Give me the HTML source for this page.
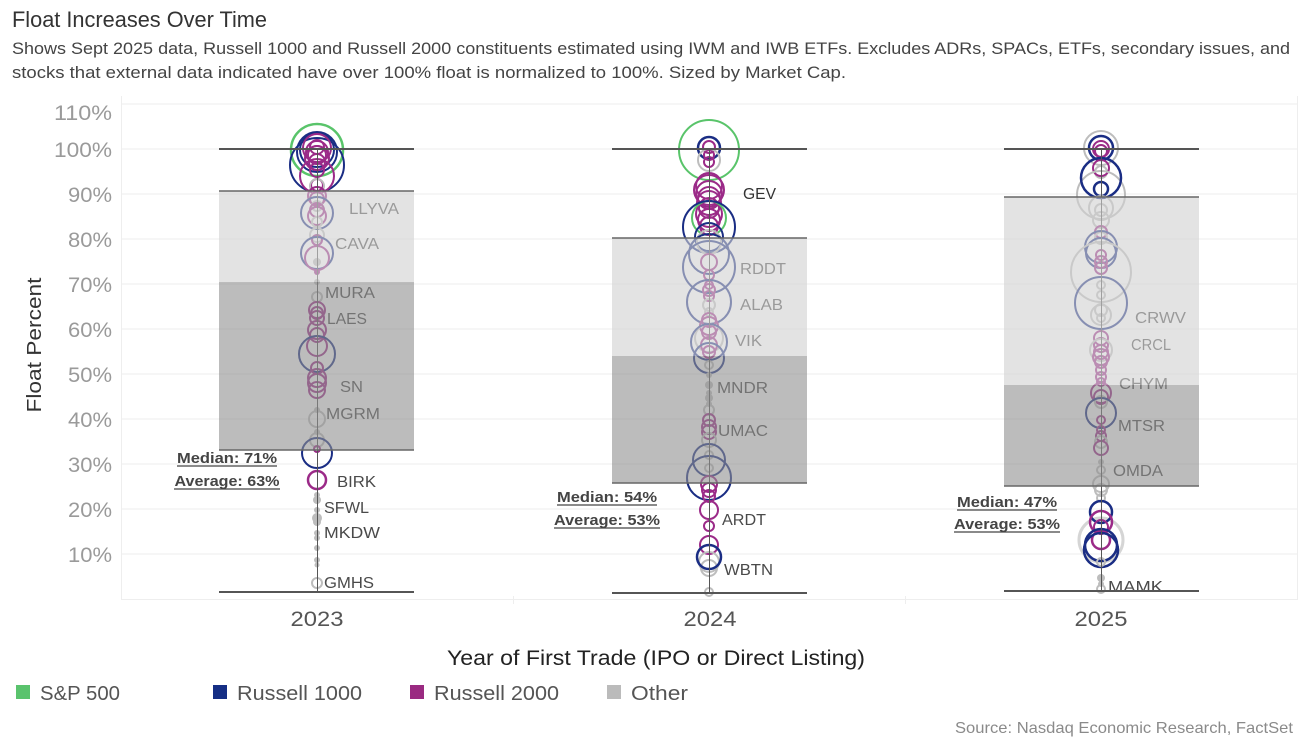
<!DOCTYPE html>
<html><head><meta charset="utf-8"><style>
html,body{margin:0;padding:0;background:#fff;}
svg{display:block;font-family:"Liberation Sans",sans-serif;}
</style></head><body>
<svg width="1308" height="746" viewBox="0 0 1308 746" xmlns="http://www.w3.org/2000/svg">
<rect width="1308" height="746" fill="#fff"/>
<!-- title -->
<text x="12" y="27" font-size="22.5" fill="#333" textLength="255" lengthAdjust="spacingAndGlyphs">Float Increases Over Time</text>
<text x="12" y="54" font-size="16.5" fill="#444" textLength="1278" lengthAdjust="spacingAndGlyphs">Shows Sept 2025 data, Russell 1000 and Russell 2000 constituents estimated using IWM and IWB ETFs. Excludes ADRs, SPACs, ETFs, secondary issues, and</text>
<text x="12" y="78" font-size="16.5" fill="#444" textLength="834" lengthAdjust="spacingAndGlyphs">stocks that external data indicated have over 100% float is normalized to 100%. Sized by Market Cap.</text>

<!-- gridlines -->
<g stroke="#eeeeee" stroke-width="1">
<line x1="121" y1="104" x2="1297" y2="104"/>
<line x1="121" y1="149" x2="1297" y2="149"/>
<line x1="121" y1="194" x2="1297" y2="194"/>
<line x1="121" y1="239" x2="1297" y2="239"/>
<line x1="121" y1="284" x2="1297" y2="284"/>
<line x1="121" y1="329" x2="1297" y2="329"/>
<line x1="121" y1="374" x2="1297" y2="374"/>
<line x1="121" y1="419" x2="1297" y2="419"/>
<line x1="121" y1="464" x2="1297" y2="464"/>
<line x1="121" y1="509" x2="1297" y2="509"/>
<line x1="121" y1="554" x2="1297" y2="554"/>
<line x1="121" y1="599.5" x2="1297" y2="599.5"/>
<line x1="121.5" y1="96" x2="121.5" y2="600"/>
<line x1="513.5" y1="596" x2="513.5" y2="604"/>
<line x1="905.5" y1="596" x2="905.5" y2="604"/>
<line x1="1297.5" y1="96" x2="1297.5" y2="600"/>
</g>

<!-- y tick labels -->
<g font-size="21" fill="#9a9a9a" text-anchor="end">
<text x="112" y="120" textLength="58" lengthAdjust="spacingAndGlyphs">110%</text>
<text x="112" y="157" textLength="58" lengthAdjust="spacingAndGlyphs">100%</text>
<text x="112" y="202" textLength="44" lengthAdjust="spacingAndGlyphs">90%</text>
<text x="112" y="247" textLength="44" lengthAdjust="spacingAndGlyphs">80%</text>
<text x="112" y="292" textLength="44" lengthAdjust="spacingAndGlyphs">70%</text>
<text x="112" y="337" textLength="44" lengthAdjust="spacingAndGlyphs">60%</text>
<text x="112" y="382" textLength="44" lengthAdjust="spacingAndGlyphs">50%</text>
<text x="112" y="427" textLength="44" lengthAdjust="spacingAndGlyphs">40%</text>
<text x="112" y="472" textLength="44" lengthAdjust="spacingAndGlyphs">30%</text>
<text x="112" y="517" textLength="44" lengthAdjust="spacingAndGlyphs">20%</text>
<text x="112" y="562" textLength="44" lengthAdjust="spacingAndGlyphs">10%</text>
</g>
<text transform="translate(41,345) rotate(-90)" font-size="20" fill="#333" text-anchor="middle" textLength="135" lengthAdjust="spacingAndGlyphs">Float Percent</text>

<!-- 2023 dots -->
<g transform="translate(317,0)" fill="none" stroke-width="2">
<circle cy="150" r="26" stroke="#59c46a" stroke-width="2.5"/>
<circle cy="165" r="27" stroke="#1a2d84"/>
<circle cy="152" r="20" stroke="#1a2d84"/>
<circle cy="150" r="17" stroke="#1a2d84"/>
<circle cy="148" r="14" stroke="#9b2a88"/>
<circle cy="152" r="11" stroke="#9b2a88"/>
<circle cy="155" r="9" stroke="#9b2a88"/>
<circle cy="158" r="12" stroke="#9b2a88"/>
<circle cy="147" r="7" stroke="#9b2a88"/>
<circle cy="162" r="8" stroke="#9b2a88"/>
<circle cy="170" r="7" stroke="#9b2a88"/>
<circle cy="176" r="17" stroke="#9b2a88"/>
<circle cy="185" r="6" stroke="#9b2a88"/>
<circle cy="186" r="7" stroke="#bdbdbd"/>
<circle cy="196" r="9" stroke="#9b2a88"/>
<circle cy="199" r="7" stroke="#9b2a88"/>
<circle cy="206" r="5" stroke="#bdbdbd"/>
<circle cy="210" r="7" stroke="#9b2a88"/>
<circle cy="213" r="16" stroke="#1a2d84"/>
<circle cy="216" r="9" stroke="#9b2a88"/>
<circle cy="222" r="5" stroke="#bdbdbd"/>
<circle cy="235" r="7" stroke="#bdbdbd"/>
<circle cy="240" r="5" stroke="#9b2a88"/>
<circle cy="253" r="16" stroke="#1a2d84"/>
<circle cy="258" r="12" stroke="#9b2a88"/>
<circle cy="262" r="4" fill="#bdbdbd" stroke="none"/>
<circle cy="272" r="3" fill="#9b2a88" stroke="none"/>
<circle cy="282" r="3" fill="#bdbdbd" stroke="none"/>
<circle cy="297" r="5" stroke="#bdbdbd"/>
<circle cy="310" r="8" stroke="#9b2a88"/>
<circle cy="313" r="6" stroke="#9b2a88"/>
<circle cy="318" r="7" stroke="#9b2a88"/>
<circle cy="330" r="9" stroke="#9b2a88"/>
<circle cy="335" r="7" stroke="#9b2a88"/>
<circle cy="346" r="10" stroke="#9b2a88"/>
<circle cy="354" r="18" stroke="#1a2d84"/>
<circle cy="368" r="6" stroke="#9b2a88"/>
<circle cy="378" r="9" stroke="#9b2a88"/>
<circle cy="383" r="9" stroke="#9b2a88"/>
<circle cy="390" r="8" stroke="#9b2a88"/>
<circle cy="410" r="3" fill="#bdbdbd" stroke="none"/>
<circle cy="419" r="8" stroke="#bdbdbd"/>
<circle cy="432" r="3" fill="#bdbdbd" stroke="none"/>
<circle cy="440" r="7" stroke="#bdbdbd"/>
<circle cy="453" r="15" stroke="#1a2d84"/>
<circle cy="449" r="3" stroke="#9b2a88"/>
<circle cy="480" r="9" stroke="#9b2a88" stroke-width="2.5"/>
<circle cy="495" r="3" fill="#bdbdbd" stroke="none"/>
<circle cy="500" r="4" fill="#bdbdbd" stroke="none"/>
<circle cy="510" r="3" fill="#bdbdbd" stroke="none"/>
<circle cy="518" r="5" fill="#bdbdbd" stroke="none"/>
<circle cy="522" r="4" fill="#bdbdbd" stroke="none"/>
<circle cy="533" r="3" fill="#bdbdbd" stroke="none"/>
<circle cy="538" r="3" fill="#bdbdbd" stroke="none"/>
<circle cy="548" r="3" fill="#bdbdbd" stroke="none"/>
<circle cy="560" r="3" fill="#bdbdbd" stroke="none"/>
<circle cy="565" r="2.5" fill="#bdbdbd" stroke="none"/>
<circle cy="583" r="5" stroke="#bdbdbd"/>
</g>

<!-- 2024 dots -->
<g transform="translate(709,0)" fill="none" stroke-width="2">
<circle cy="150" r="30" stroke="#59c46a"/>
<circle cy="148" r="11" stroke="#1a2d84" stroke-width="2.5"/>
<circle cy="147" r="6" stroke="#9b2a88"/>
<circle cy="155" r="5" stroke="#9b2a88"/>
<circle cy="160" r="11" stroke="#bdbdbd"/>
<circle cy="162" r="5" stroke="#9b2a88"/>
<circle cy="186" r="13" stroke="#9b2a88"/>
<circle cy="190" r="15" stroke="#9b2a88"/>
<circle cy="194" r="13" stroke="#9b2a88"/>
<circle cy="198" r="11" stroke="#9b2a88"/>
<circle cy="203" r="12" stroke="#9b2a88"/>
<circle cy="208" r="10" stroke="#9b2a88"/>
<circle cy="214" r="13" stroke="#9b2a88"/>
<circle cy="218" r="17" stroke="#59c46a"/>
<circle cy="220" r="11" stroke="#9b2a88"/>
<circle cy="226" r="9" stroke="#9b2a88"/>
<circle cy="227" r="26" stroke="#1a2d84"/>
<circle cy="237" r="14" stroke="#1a2d84"/>
<circle cy="242" r="12" stroke="#bdbdbd"/>
<circle cy="254" r="20" stroke="#1a2d84"/>
<circle cy="262" r="8" stroke="#9b2a88"/>
<circle cy="267" r="26" stroke="#1a2d84"/>
<circle cy="275" r="5" stroke="#9b2a88"/>
<circle cy="285" r="4" stroke="#9b2a88"/>
<circle cy="290" r="6" stroke="#9b2a88"/>
<circle cy="296" r="5" stroke="#9b2a88"/>
<circle cy="302" r="22" stroke="#1a2d84"/>
<circle cy="305" r="6" stroke="#bdbdbd"/>
<circle cy="312" r="4" stroke="#bdbdbd"/>
<circle cy="320" r="7" stroke="#9b2a88"/>
<circle cy="326" r="9" stroke="#9b2a88"/>
<circle cy="332" r="7" stroke="#9b2a88"/>
<circle cy="338" r="14" stroke="#bdbdbd"/>
<circle cy="342" r="18" stroke="#1a2d84"/>
<circle cy="345" r="8" stroke="#9b2a88"/>
<circle cy="352" r="6" stroke="#9b2a88"/>
<circle cy="358" r="15" stroke="#1a2d84"/>
<circle cy="365" r="4" stroke="#bdbdbd"/>
<circle cy="375" r="3" fill="#bdbdbd" stroke="none"/>
<circle cy="385" r="4" fill="#bdbdbd" stroke="none"/>
<circle cy="393" r="3" fill="#bdbdbd" stroke="none"/>
<circle cy="398" r="4" fill="#bdbdbd" stroke="none"/>
<circle cy="404" r="3" fill="#bdbdbd" stroke="none"/>
<circle cy="410" r="5" stroke="#bdbdbd"/>
<circle cy="420" r="6" stroke="#9b2a88"/>
<circle cy="427" r="7" stroke="#9b2a88"/>
<circle cy="432" r="7" stroke="#9b2a88"/>
<circle cy="440" r="7" stroke="#bdbdbd"/>
<circle cy="455" r="4" stroke="#bdbdbd"/>
<circle cy="460" r="16" stroke="#1a2d84"/>
<circle cy="468" r="4" stroke="#bdbdbd"/>
<circle cy="478" r="22" stroke="#1a2d84"/>
<circle cy="484" r="8" stroke="#9b2a88"/>
<circle cy="490" r="7" stroke="#9b2a88"/>
<circle cy="496" r="6" stroke="#9b2a88"/>
<circle cy="510" r="9" stroke="#9b2a88"/>
<circle cy="526" r="5" stroke="#9b2a88"/>
<circle cy="545" r="9" stroke="#9b2a88"/>
<circle cy="562" r="10" stroke="#bdbdbd"/>
<circle cy="568" r="8" stroke="#bdbdbd"/>
<circle cy="557" r="12" stroke="#1a2d84" stroke-width="2.5"/>
<circle cy="592" r="4" stroke="#bdbdbd"/>
</g>

<!-- 2025 dots -->
<g transform="translate(1101,0)" fill="none" stroke-width="2">
<circle cy="148" r="17" stroke="#bdbdbd"/>
<circle cy="148" r="12" stroke="#1a2d84" stroke-width="2.5"/>
<circle cy="149" r="8" stroke="#9b2a88"/>
<circle cy="151" r="6" stroke="#9b2a88"/>
<circle cy="172" r="6" stroke="#bdbdbd"/>
<circle cy="168" r="8" stroke="#9b2a88"/>
<circle cy="195" r="24" stroke="#bdbdbd"/>
<circle cy="178" r="20" stroke="#1a2d84" stroke-width="2.5"/>
<circle cy="189" r="7" stroke="#1a2d84" stroke-width="2.5"/>
<circle cy="208" r="12" stroke="#bdbdbd"/>
<circle cy="210" r="6" stroke="#bdbdbd"/>
<circle cy="220" r="8" stroke="#bdbdbd"/>
<circle cy="232" r="6" stroke="#9b2a88"/>
<circle cy="238" r="6" stroke="#bdbdbd"/>
<circle cy="247" r="16" stroke="#1a2d84"/>
<circle cy="253" r="15" stroke="#1a2d84"/>
<circle cy="255" r="5" stroke="#9b2a88"/>
<circle cy="262" r="6" stroke="#9b2a88"/>
<circle cy="268" r="6" stroke="#9b2a88"/>
<circle cy="272" r="30" stroke="#bdbdbd"/>
<circle cy="285" r="4" stroke="#bdbdbd"/>
<circle cy="295" r="4" stroke="#bdbdbd"/>
<circle cy="303" r="26" stroke="#1a2d84"/>
<circle cy="310" r="6" stroke="#bdbdbd"/>
<circle cy="315" r="10" stroke="#bdbdbd"/>
<circle cy="318" r="4" stroke="#bdbdbd"/>
<circle cy="338" r="7" stroke="#9b2a88"/>
<circle cy="345" r="7" stroke="#9b2a88"/>
<circle cy="350" r="11" stroke="#bdbdbd"/>
<circle cy="352" r="7" stroke="#9b2a88"/>
<circle cy="357" r="8" stroke="#9b2a88"/>
<circle cy="362" r="6" stroke="#9b2a88"/>
<circle cy="370" r="5" stroke="#9b2a88"/>
<circle cy="377" r="5" stroke="#9b2a88"/>
<circle cy="382" r="4" stroke="#9b2a88"/>
<circle cy="393" r="10" stroke="#9b2a88"/>
<circle cy="397" r="7" stroke="#9b2a88"/>
<circle cy="402" r="6" stroke="#bdbdbd"/>
<circle cy="413" r="15" stroke="#1a2d84"/>
<circle cy="420" r="4" stroke="#9b2a88"/>
<circle cy="430" r="4" stroke="#9b2a88"/>
<circle cy="436" r="5" stroke="#9b2a88"/>
<circle cy="442" r="6" stroke="#bdbdbd"/>
<circle cy="448" r="7" stroke="#9b2a88"/>
<circle cy="462" r="3" fill="#bdbdbd" stroke="none"/>
<circle cy="470" r="4" stroke="#bdbdbd"/>
<circle cy="484" r="8" stroke="#bdbdbd"/>
<circle cy="490" r="6" stroke="#bdbdbd"/>
<circle cy="498" r="4" stroke="#bdbdbd"/>
<circle cy="540" r="22" stroke="#d5d5d5" stroke-width="3"/>
<circle cy="512" r="11" stroke="#1a2d84" stroke-width="2.5"/>
<circle cy="522" r="11" stroke="#9b2a88" stroke-width="2.5"/>
<circle cy="527" r="7" stroke="#9b2a88"/>
<circle cy="540" r="9" stroke="#9b2a88" stroke-width="2.5"/>
<circle cy="545" r="16" stroke="#1a2d84" stroke-width="2.5"/>
<circle cy="550" r="17" stroke="#1a2d84" stroke-width="2.5"/>
<circle cy="562" r="4" stroke="#bdbdbd"/>
<circle cy="578" r="4" fill="#bdbdbd" stroke="none"/>
<circle cy="584" r="3" fill="#bdbdbd" stroke="none"/>
<circle cy="589" r="4" stroke="#bdbdbd"/>
</g>

<!-- vertical whisker lines -->
<g stroke="#555" stroke-width="1">
<line x1="317.5" y1="149" x2="317.5" y2="592"/>
<line x1="709.5" y1="149" x2="709.5" y2="593"/>
<line x1="1101.5" y1="149" x2="1101.5" y2="591"/>
</g>

<!-- ticker labels -->
<g font-size="16" fill="#4a4a4a">
<text x="349" y="214" textLength="50" lengthAdjust="spacingAndGlyphs">LLYVA</text>
<text x="335" y="249" textLength="44" lengthAdjust="spacingAndGlyphs">CAVA</text>
<text x="325" y="298" textLength="50" lengthAdjust="spacingAndGlyphs">MURA</text>
<text x="327" y="324" textLength="40" lengthAdjust="spacingAndGlyphs">LAES</text>
<text x="340" y="392" textLength="23" lengthAdjust="spacingAndGlyphs">SN</text>
<text x="326" y="419" textLength="54" lengthAdjust="spacingAndGlyphs">MGRM</text>
<text x="337" y="487" textLength="39" lengthAdjust="spacingAndGlyphs">BIRK</text>
<text x="324" y="513" textLength="45" lengthAdjust="spacingAndGlyphs">SFWL</text>
<text x="324" y="538" textLength="56" lengthAdjust="spacingAndGlyphs">MKDW</text>
<text x="324" y="588" textLength="50" lengthAdjust="spacingAndGlyphs">GMHS</text>
<text x="743" y="199" textLength="33" lengthAdjust="spacingAndGlyphs" fill="#333">GEV</text>
<text x="740" y="274" textLength="46" lengthAdjust="spacingAndGlyphs">RDDT</text>
<text x="740" y="310" textLength="43" lengthAdjust="spacingAndGlyphs">ALAB</text>
<text x="735" y="346" textLength="27" lengthAdjust="spacingAndGlyphs">VIK</text>
<text x="717" y="393" textLength="51" lengthAdjust="spacingAndGlyphs">MNDR</text>
<text x="718" y="436" textLength="50" lengthAdjust="spacingAndGlyphs">UMAC</text>
<text x="722" y="525" textLength="44" lengthAdjust="spacingAndGlyphs">ARDT</text>
<text x="724" y="575" textLength="49" lengthAdjust="spacingAndGlyphs">WBTN</text>
<text x="1135" y="323" textLength="51" lengthAdjust="spacingAndGlyphs">CRWV</text>
<text x="1131" y="350" textLength="40" lengthAdjust="spacingAndGlyphs">CRCL</text>
<text x="1119" y="389" textLength="49" lengthAdjust="spacingAndGlyphs">CHYM</text>
<text x="1118" y="431" textLength="47" lengthAdjust="spacingAndGlyphs">MTSR</text>
<text x="1113" y="476" textLength="50" lengthAdjust="spacingAndGlyphs">OMDA</text>
<text x="1108" y="592" textLength="55" lengthAdjust="spacingAndGlyphs">MAMK</text>
</g>

<!-- boxes overlay -->
<g>
<rect x="219" y="191" width="195" height="91" fill="#d0d0d0" fill-opacity="0.6"/>
<rect x="219" y="282" width="195" height="168" fill="#8f8f8f" fill-opacity="0.6"/>
<rect x="612" y="238" width="195" height="118" fill="#d0d0d0" fill-opacity="0.6"/>
<rect x="612" y="356" width="195" height="127" fill="#8f8f8f" fill-opacity="0.6"/>
<rect x="1004" y="197" width="195" height="188" fill="#d0d0d0" fill-opacity="0.6"/>
<rect x="1004" y="385" width="195" height="101" fill="#8f8f8f" fill-opacity="0.6"/>
</g>
<g stroke="#666" stroke-width="1.5">
<line x1="219" y1="191" x2="414" y2="191"/>
<line x1="219" y1="450" x2="414" y2="450"/>
<line x1="612" y1="238" x2="807" y2="238"/>
<line x1="612" y1="483" x2="807" y2="483"/>
<line x1="1004" y1="197" x2="1199" y2="197"/>
<line x1="1004" y1="486" x2="1199" y2="486"/>
</g>
<g stroke="#555" stroke-width="2">
<line x1="219" y1="149" x2="414" y2="149"/>
<line x1="219" y1="592" x2="414" y2="592"/>
<line x1="612" y1="149" x2="807" y2="149"/>
<line x1="612" y1="593" x2="807" y2="593"/>
<line x1="1004" y1="149" x2="1199" y2="149"/>
<line x1="1004" y1="591" x2="1199" y2="591"/>
</g>

<!-- median / average labels -->
<g font-size="15" font-weight="bold" fill="#444" text-anchor="middle">
<text x="227" y="463" textLength="100" lengthAdjust="spacingAndGlyphs">Median: 71%</text>
<text x="227" y="486" textLength="105" lengthAdjust="spacingAndGlyphs">Average: 63%</text>
<text x="607" y="502" textLength="100" lengthAdjust="spacingAndGlyphs">Median: 54%</text>
<text x="607" y="525" textLength="106" lengthAdjust="spacingAndGlyphs">Average: 53%</text>
<text x="1007" y="507" textLength="100" lengthAdjust="spacingAndGlyphs">Median: 47%</text>
<text x="1007" y="529" textLength="106" lengthAdjust="spacingAndGlyphs">Average: 53%</text>
</g>
<g stroke="#444" stroke-width="1.2">
<line x1="177" y1="466" x2="277" y2="466"/>
<line x1="174" y1="489" x2="280" y2="489"/>
<line x1="557" y1="505" x2="657" y2="505"/>
<line x1="554" y1="528" x2="660" y2="528"/>
<line x1="957" y1="510" x2="1057" y2="510"/>
<line x1="954" y1="532" x2="1060" y2="532"/>
</g>

<!-- x axis labels -->
<g font-size="21" fill="#555" text-anchor="middle">
<text x="317" y="626" textLength="53" lengthAdjust="spacingAndGlyphs">2023</text>
<text x="710" y="626" textLength="53" lengthAdjust="spacingAndGlyphs">2024</text>
<text x="1101" y="626" textLength="53" lengthAdjust="spacingAndGlyphs">2025</text>
</g>
<text x="656" y="665" font-size="21" fill="#222" text-anchor="middle" textLength="418" lengthAdjust="spacingAndGlyphs">Year of First Trade (IPO or Direct Listing)</text>

<!-- legend -->
<rect x="16" y="685" width="14" height="14" fill="#5ac36d"/>
<text x="40" y="700" font-size="20" fill="#555" textLength="80" lengthAdjust="spacingAndGlyphs">S&amp;P 500</text>
<rect x="213" y="685" width="14" height="14" fill="#152e84"/>
<text x="237" y="700" font-size="20" fill="#555" textLength="125" lengthAdjust="spacingAndGlyphs">Russell 1000</text>
<rect x="410" y="685" width="14" height="14" fill="#9a2a81"/>
<text x="434" y="700" font-size="20" fill="#555" textLength="125" lengthAdjust="spacingAndGlyphs">Russell 2000</text>
<rect x="607" y="685" width="14" height="14" fill="#bbbbbb"/>
<text x="631" y="700" font-size="20" fill="#555" textLength="57" lengthAdjust="spacingAndGlyphs">Other</text>

<!-- source -->
<text x="1293" y="733" font-size="16" fill="#8a8a8a" text-anchor="end" textLength="338" lengthAdjust="spacingAndGlyphs">Source: Nasdaq Economic Research, FactSet</text>
</svg>
</body></html>
